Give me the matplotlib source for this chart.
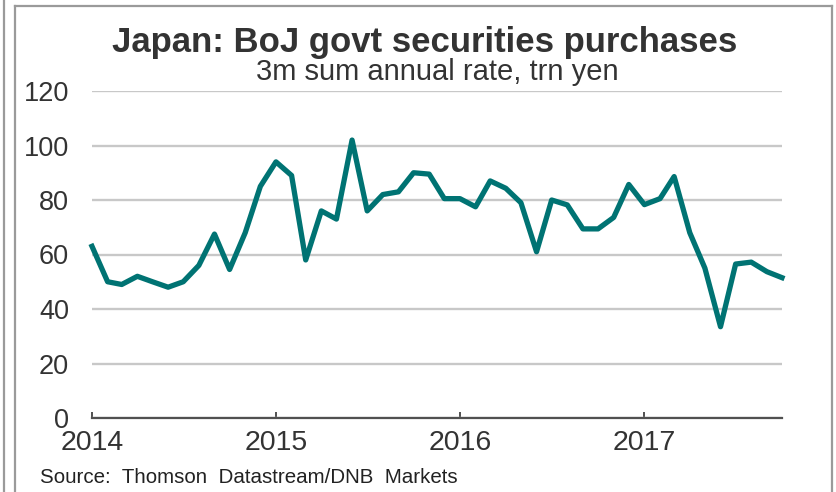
import numpy as np
import pandas as pd
import matplotlib.pyplot as plt
import matplotlib.dates as mdates
from matplotlib.lines import Line2D

# Monthly purchases, 3m sum at annual rate (trn yen), Jan 2014 - Oct 2017
months = pd.date_range('2014-01-01', periods=46, freq='MS')
purchases = [63, 50, 49, 52, 50, 48, 50, 56, 67.5, 54.5, 68, 85,
             94, 89, 58, 76, 73, 102, 76, 82, 83, 90, 89.5, 80.5,
             80.5, 77.5, 87, 84.3, 79, 61, 80, 78.2, 69.4, 69.4, 73.6, 85.7,
             78.3, 80.5, 88.6, 68, 55, 33.5, 56.5, 57.2, 53.7, 51.5]

y_ticks = [0, 20, 40, 60, 80, 100, 120]
x_ticks = pd.to_datetime(['2014-01-01', '2015-01-01', '2016-01-01', '2017-01-01'])
x_labels = ['2014', '2015', '2016', '2017']

title = 'Japan: BoJ govt securities purchases'
subtitle = '3m sum annual rate, trn yen'
source = 'Source:  Thomson  Datastream/DNB  Markets'

plt.rcParams['font.family'] = ['Liberation Sans', 'DejaVu Sans']

W, H = 837, 492
fig = plt.figure(figsize=(W / 100, H / 100), dpi=100)
fig.patch.set_facecolor('white')

# plot area in pixel terms
left, right, bottom, top = 92, 782, 418, 91
ax = fig.add_axes([left / W, 1 - bottom / H, (right - left) / W, (bottom - top) / H])

ax.plot(months, purchases, color='#007373', linewidth=3.8,
        solid_joinstyle='round', clip_on=False, zorder=3)

ax.set_ylim(0, 120)
ax.set_xlim(months[0], months[-1])
ax.set_yticks(y_ticks)
ax.set_xticks(x_ticks)
ax.set_xticklabels(x_labels)

ax.yaxis.grid(True, color='#c8c8c8', linewidth=1.7)
ax.set_axisbelow(True)
for side in ['top', 'right', 'left']:
    ax.spines[side].set_visible(False)
ax.spines['bottom'].set_color('#505050')
ax.spines['bottom'].set_linewidth(1.6)
ax.spines['bottom'].set_zorder(4)

ax.tick_params(axis='y', length=0, pad=16.5, labelsize=19.5, labelcolor='#333333')
ax.tick_params(axis='x', direction='in', length=4.5, width=1.4, color='#505050',
               pad=8.5, labelsize=20.5, labelcolor='#333333')

fig.text(425 / W, 1 - 52 / H, title, ha='center', va='baseline',
         fontsize=25, fontweight='bold', color='#333333')
fig.text(437 / W, 1 - 80 / H, subtitle, ha='center', va='baseline',
         fontsize=21, color='#333333')
fig.text(40 / W, 1 - 483 / H, source, ha='left', va='baseline',
         fontsize=14.8, color='#222222')

# surrounding frame lines
frame = dict(color='#9a9a9a', linewidth=1.6, transform=fig.transFigure)
fig.add_artist(Line2D([4 / W, 4 / W], [0, 1], **frame))
fig.add_artist(Line2D([15 / W, 15 / W], [0, 1 - 6 / H], **frame))
fig.add_artist(Line2D([15 / W, 832 / W], [1 - 6 / H, 1 - 6 / H], **frame))
fig.add_artist(Line2D([832 / W, 832 / W], [0, 1 - 6 / H], **frame))

fig.savefig('out.png', dpi=100)
